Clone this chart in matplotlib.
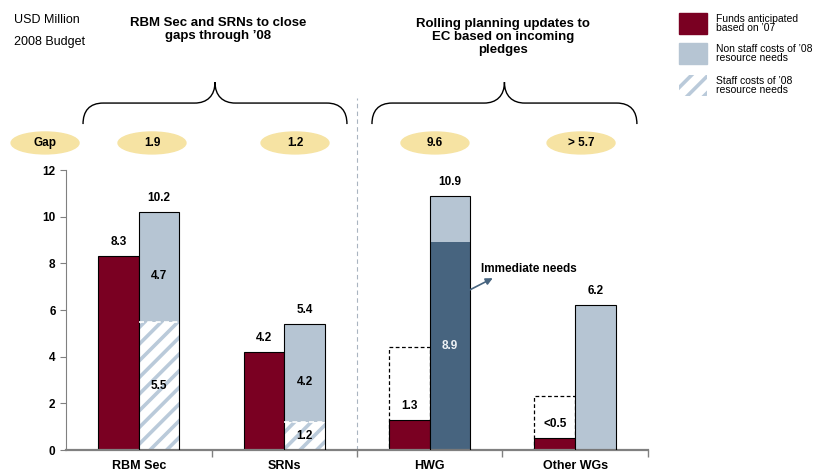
import numpy as np
import matplotlib
matplotlib.use("Agg")
import matplotlib.pyplot as plt
from matplotlib.patches import Rectangle, Ellipse, PathPatch
from matplotlib.path import Path

plt.rcParams['font.family'] = ['Liberation Sans', 'DejaVu Sans']
plt.rcParams['hatch.linewidth'] = 2.6

# data
categories = ["RBM Sec", "SRNs", "HWG", "Other WGs"]
funds_07 = [8.3, 4.2, 1.3, 0.5]
funds_labels = ["8.3", "4.2", "1.3", "<0.5"]
staff_costs = [5.5, 1.2, 0.0, 0.0]
non_staff = [4.7, 4.2, 0.0, 6.2]
immediate = [0.0, 0.0, 8.9, 0.0]
hwg_rest = [0.0, 0.0, 2.0, 0.0]
totals = [10.2, 5.4, 10.9, 6.2]
dashed_tops = [None, None, 4.4, 2.3]
gaps = ["Gap", "1.9", "1.2", "9.6", "> 5.7"]

RED = "#7A0022"
LBLUE = "#B6C5D3"
DBLUE = "#47647F"
HATCH = "#BACADA"
GOLD = "#F6E3A3"

fig = plt.figure(figsize=(8.17, 4.74), dpi=100)
ax = fig.add_axes([0.0808, 0.0506, 0.7123, 0.5907])

x = np.arange(len(categories))
w = 0.28
xr = x - w / 2
xb = x + w / 2

# dashed boxes behind red bars
for i, top in enumerate(dashed_tops):
    if top is not None:
        ax.add_patch(Rectangle((xr[i] - w / 2, 0), w, top, fill=False,
                               ls=(0, (3, 2)), lw=0.9, ec="black", zorder=1))

ax.bar(xr, funds_07, w, color=RED, ec="black", lw=0.8, zorder=2)

# blue column: staff (hatched) + non staff / immediate needs
staff = np.array(staff_costs)
ax.bar(xb, staff, w, color="white", ec=HATCH, hatch="//", lw=0, zorder=2)
ax.bar(xb, immediate, w, color=DBLUE, lw=0, zorder=2)
ax.bar(xb, non_staff, w, bottom=staff, color=LBLUE, lw=0, zorder=2)
ax.bar(xb, hwg_rest, w, bottom=np.array(immediate), color=LBLUE, lw=0, zorder=2)
ax.bar(xb, totals, w, fill=False, ec="black", lw=0.8, zorder=3)
for i in range(len(categories)):
    if staff[i] > 0:
        ax.plot([xb[i] - w / 2, xb[i] + w / 2], [staff[i], staff[i]],
                color="white", ls=(0, (3, 2)), lw=1.2, zorder=3)

lab = dict(ha="center", va="center", fontsize=8.5, fontweight="bold")
for i in range(len(categories)):
    ax.text(xr[i], funds_07[i] + 0.6, funds_labels[i], **lab, zorder=4)
    ax.text(xb[i], totals[i] + 0.6, f"{totals[i]:.1f}", **lab, zorder=4)
    if staff[i] > 0:
        ax.text(xb[i], staff[i] / 2, f"{staff[i]:.1f}", **lab, zorder=4)
        ax.text(xb[i], staff[i] + non_staff[i] / 2 - 0.4, f"{non_staff[i]:.1f}", **lab, zorder=4)
    if immediate[i] > 0:
        ax.text(xb[i], immediate[i] / 2, f"{immediate[i]:.1f}", color="#EEF2F6",
                **lab, zorder=4)

ax.text(2.35, 7.74, "Immediate needs", ha="left", va="center",
        fontsize=8.5, fontweight="bold")
ax.annotate("", xy=(2.45, 7.42), xytext=(2.14, 6.43),
            arrowprops=dict(arrowstyle="-|>", color=DBLUE, lw=1.2, mutation_scale=10))

# axes styling
ax.set_xlim(-0.5, 3.5)
ax.set_ylim(0, 12)
ax.set_yticks(range(0, 13, 2))
ax.set_xticks(x)
ax.set_xticklabels(categories, fontsize=9, fontweight="bold")
ax.set_xticks([0.5, 1.5, 2.5, 3.5], minor=True)
ax.tick_params(axis="x", which="major", length=0, pad=7)
ax.tick_params(axis="x", which="minor", length=5, color="#808080", width=1)
ax.tick_params(axis="y", length=4, color="#808080", labelsize=8.5)
for t in ax.get_yticklabels():
    t.set_fontweight("bold")
for s in ["top", "right"]:
    ax.spines[s].set_visible(False)
ax.spines["left"].set_color("#808080")
ax.spines["bottom"].set_color("#808080")
ax.spines["bottom"].set_linewidth(1.6)

# divider
ax.plot([1.5, 1.5], [0, 15.1], color="#A9B4C0", ls=(0, (4, 3)), lw=0.8, clip_on=False)


def brace(x0, x1, ybot, yflat, ytip, rx=0.14):
    xm = (x0 + x1) / 2
    verts = [(x0, ybot), (x0, yflat - 0.35), (x0 + rx * 0.3, yflat), (x0 + rx, yflat),
             (xm - rx, yflat),
             (xm - rx * 0.4, yflat), (xm, yflat + 0.3), (xm, ytip),
             (xm, yflat + 0.3), (xm + rx * 0.4, yflat), (xm + rx, yflat),
             (x1 - rx, yflat),
             (x1 - rx * 0.3, yflat), (x1, yflat - 0.35), (x1, ybot)]
    codes = [Path.MOVETO, Path.CURVE4, Path.CURVE4, Path.CURVE4,
             Path.LINETO,
             Path.CURVE4, Path.CURVE4, Path.CURVE4,
             Path.CURVE4, Path.CURVE4, Path.CURVE4,
             Path.LINETO,
             Path.CURVE4, Path.CURVE4, Path.CURVE4]
    ax.add_patch(PathPatch(Path(verts, codes), fill=False, lw=1.0,
                           ec="black", clip_on=False))


brace(-0.383, 1.431, 13.97, 14.87, 15.77)
brace(1.603, 3.424, 13.97, 14.87, 15.77)

gap_x = [-0.644, 0.091, 1.074, 2.036, 3.04]
for gx, g in zip(gap_x, gaps):
    ax.add_patch(Ellipse((gx, 13.16), 0.467, 0.94, color=GOLD, clip_on=False))
    ax.text(gx, 13.16, g, ha="center", va="center", fontsize=8.5, fontweight="bold")

# titles
fig.text(14 / 817, 1 - 20 / 474, "USD Million", ha="left", va="center", fontsize=9)
fig.text(14 / 817, 1 - 42 / 474, "2008 Budget", ha="left", va="center", fontsize=9)
fig.text(218 / 817, 1 - 29.5 / 474, "RBM Sec and SRNs to close\ngaps through \u201908",
         ha="center", va="center", fontsize=9.5, fontweight="bold", linespacing=1.1)
fig.text(503 / 817, 1 - 37 / 474, "Rolling planning updates to\nEC based on incoming\npledges",
         ha="center", va="center", fontsize=9.5, fontweight="bold", linespacing=1.1)

# legend
leg = [("Funds anticipated\nbased on \u201907", dict(color=RED)),
       ("Non staff costs of \u201908\nresource needs", dict(color=LBLUE)),
       ("Staff costs of \u201908\nresource needs", dict(fc="white", ec=HATCH, hatch="//", lw=0))]
leg_y = [13, 43, 75]
for (txt, kw), yy in zip(leg, leg_y):
    fig.patches.append(Rectangle((679 / 817, 1 - (yy + 21) / 474), 28 / 817, 21 / 474,
                                 transform=fig.transFigure, figure=fig, **kw))
    fig.text(716 / 817, 1 - (yy + 10.5) / 474, txt, ha="left", va="center",
             fontsize=7.5, linespacing=0.95)

fig.savefig("out.png", dpi=100)
